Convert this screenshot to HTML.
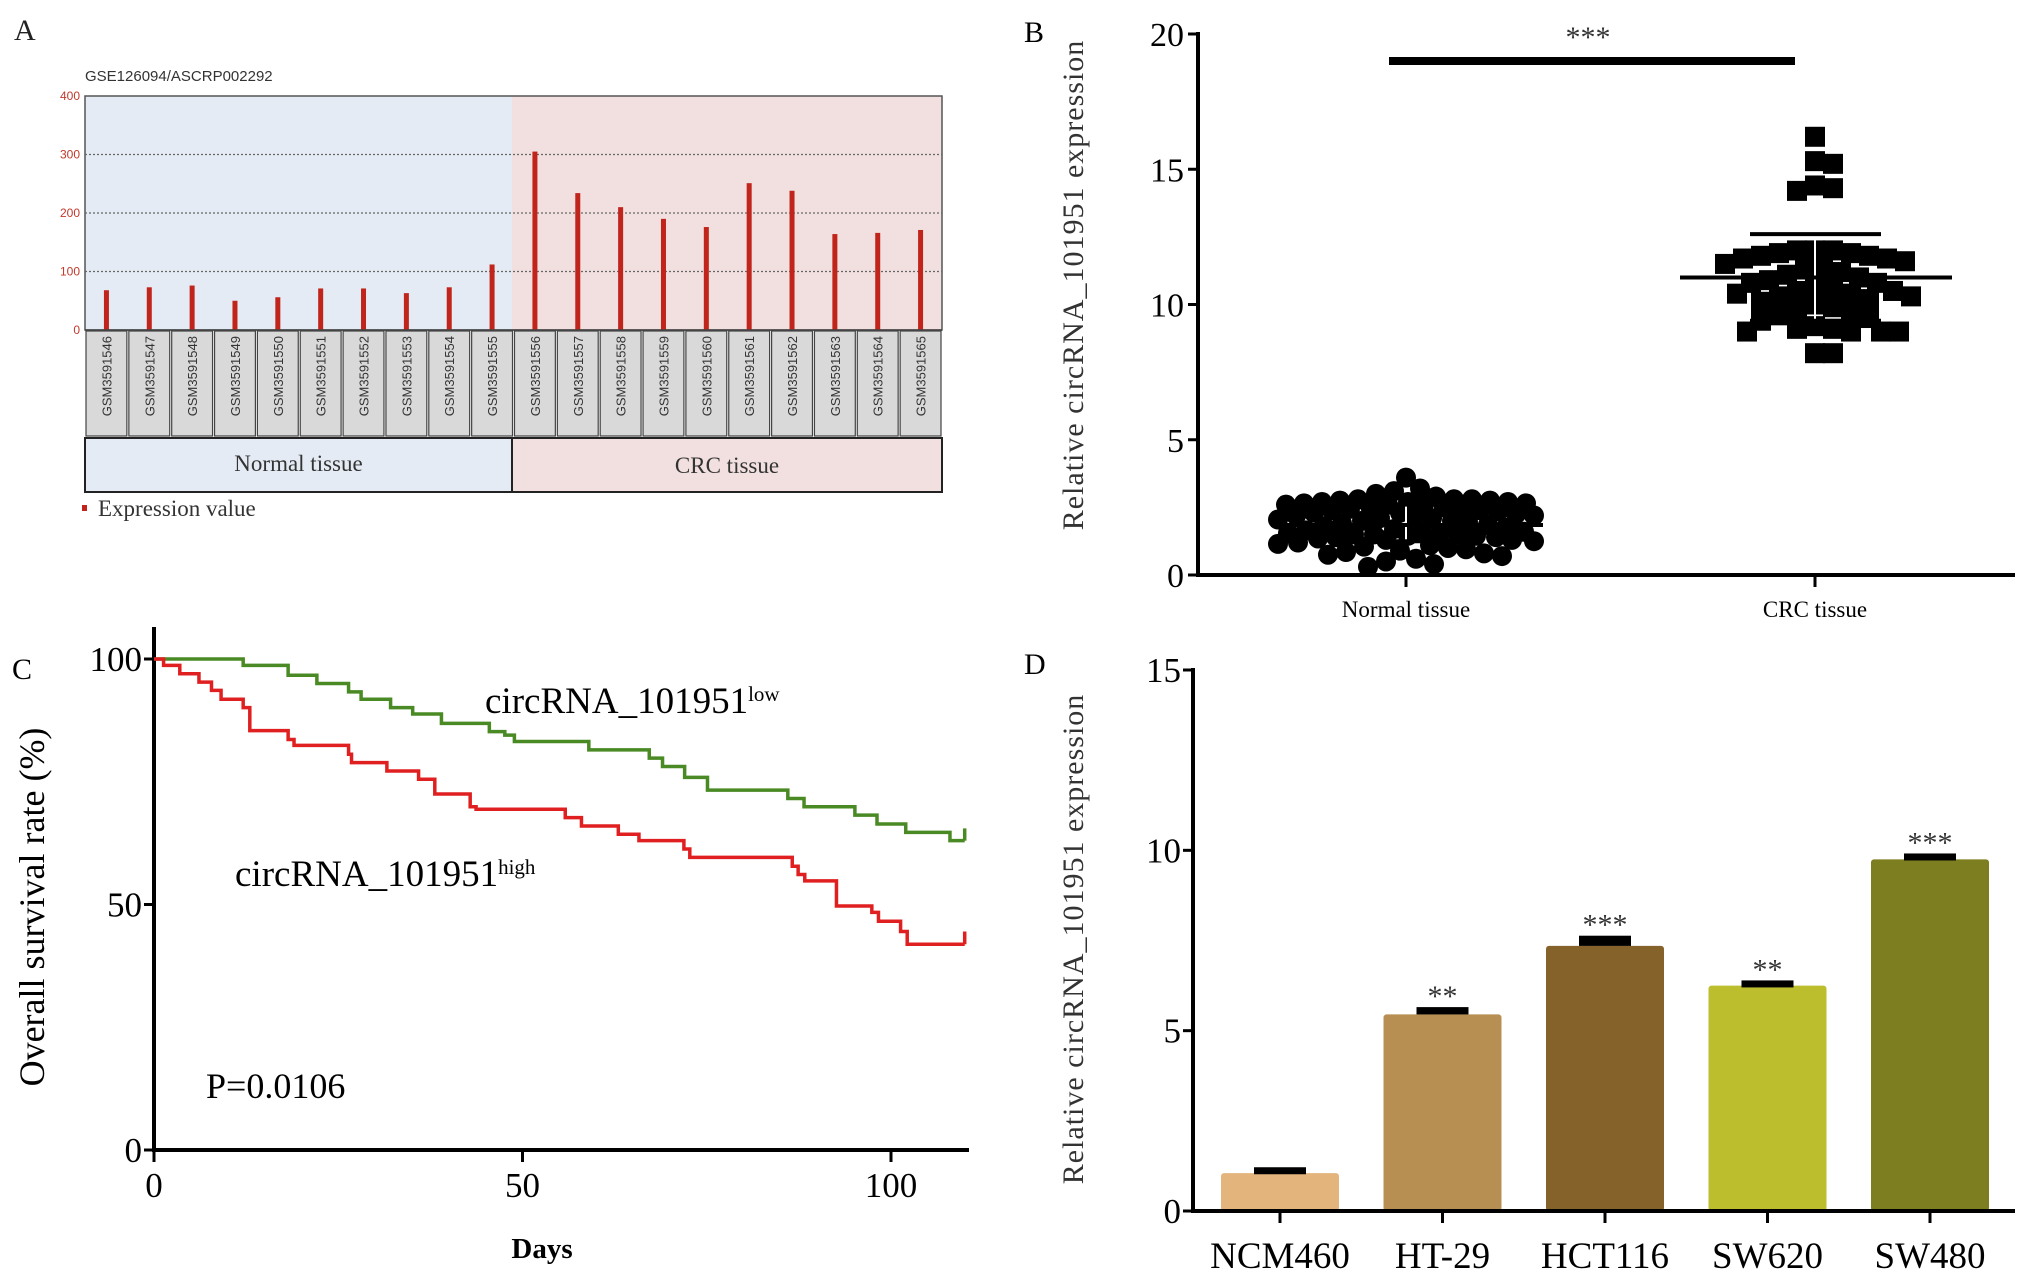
<!DOCTYPE html>
<html><head><meta charset="utf-8"><style>
html,body{margin:0;padding:0;background:#fff;overflow:hidden;}
svg{display:block;font-family:"Liberation Serif",serif;}
</style></head><body>
<svg id="fig" width="2031" height="1283" viewBox="0 0 2031 1283" xmlns="http://www.w3.org/2000/svg">
<g id="pa"></g>
<g id="pb"></g>
<g id="pc"></g>
<g id="pd"></g>
</svg>
<script>
// Panel A data
const aSamples=["GSM3591546","GSM3591547","GSM3591548","GSM3591549","GSM3591550","GSM3591551","GSM3591552","GSM3591553","GSM3591554","GSM3591555","GSM3591556","GSM3591557","GSM3591558","GSM3591559","GSM3591560","GSM3591561","GSM3591562","GSM3591563","GSM3591564","GSM3591565"];
const aValues=[68,73,76,50,56,71,71,63,73,112,305,234,210,190,176,251,238,164,166,171];
const aTicks=[0,100,200,300,400];
// Panel B data
const bNormal=[3.6,3.2,3.1,3.0,2.9,2.8,2.8,2.8,2.75,2.75,2.7,2.7,2.7,2.65,2.65,2.6,2.6,2.6,2.55,2.5,2.5,2.45,2.4,2.4,2.35,2.3,2.3,2.25,2.2,2.2,2.15,2.1,2.1,2.05,2.0,2.0,1.95,1.9,1.85,1.8,1.75,1.7,1.65,1.6,1.6,1.55,1.55,1.5,1.5,1.5,1.45,1.45,1.4,1.4,1.35,1.3,1.3,1.25,1.2,1.15,1.1,1.05,1.0,0.95,0.9,0.85,0.8,0.75,0.7,0.6,0.5,0.4,0.3];
const bCRC=[16.2,15.3,15.2,14.4,14.2,14.3,12.0,12.0,12.0,11.9,11.9,11.8,11.8,11.7,11.7,11.6,11.5,11.4,11.3,11.2,11.1,11.0,10.9,10.8,10.8,10.7,10.6,10.5,10.5,10.4,10.4,10.3,10.3,10.2,10.1,10.0,9.9,9.8,9.7,9.6,9.5,9.4,9.2,9.1,9.1,9.0,9.0,9.0,9.0,8.2,8.2];
const bStats=[{mean:1.85,sdHi:2.6,sdLo:1.25},{mean:11.0,sdHi:12.6,sdLo:9.4}];
const bTicks=[0,5,10,15,20];
const bCats=["Normal tissue","CRC tissue"];
// Panel C data
const cLowDays=[0,12.1,18.2,22.1,26.4,28.1,32.1,35.1,39,45.5,47.6,48.9,59,67.2,69,72,75.1,86,88.2,95.1,98.1,102,108,110];
const cLowVals=[100,98.7,96.7,95,93.3,91.8,90.1,88.8,86.9,85.2,84.5,83.2,81.5,79.8,78.1,75.9,73.3,71.6,69.9,68.2,66.4,64.7,63,63];
const cHighDays=[0,1.3,3.5,6.1,7.8,9.1,12.1,13,18.2,19,26.4,26.8,31.6,35.9,38.1,42.9,43.7,55.8,58,63,65.8,71.9,72.7,86.6,87.4,88.3,92.6,97.4,98.3,101.3,102.2,110];
const cHighVals=[100,98.7,97,95.3,93.6,91.8,90.1,85.4,83.6,82.4,80.6,78.9,77.2,75.5,72.5,69.9,69.4,67.7,66,64.3,63,61.3,59.6,57.8,56.1,54.8,49.7,48.4,46.6,44.5,41.9,41.9];
const cXTicks=[0,50,100];
const cYTicks=[0,50,100];
// Panel D data
const dCats=["NCM460","HT-29","HCT116","SW620","SW480"];
const dValues=[1.05,5.45,7.35,6.25,9.75];
const dErrors=[0.08,0.12,0.2,0.06,0.08];
const dStars=["","**","***","**","***"];
const dTicks=[0,5,10,15];

const NS="http://www.w3.org/2000/svg";
function mk(parent,tag,attrs,text){const e=document.createElementNS(NS,tag);for(const k in attrs)e.setAttribute(k,attrs[k]);if(text!==undefined)e.textContent=text;parent.appendChild(e);return e;}

// ---------- Panel A ----------
(function(){
const g=document.getElementById('pa');
const L=85,R=942,T=96,B=330,mid=512;
const y=v=>B-(v/400)*(B-T);
const bw=(R-L)/20, x=i=>L+bw*(i+0.5);
let e;
e=mk(g,'text',{x:14,y:40,'font-size':30,fill:'#222'},'A');
e=mk(g,'text',{x:85,y:81,'font-size':15,fill:'#333','font-family':'Liberation Sans, sans-serif'},'GSE126094/ASCRP002292');
e=mk(g,'rect',{x:L,y:T,width:mid-L,height:B-T,fill:'#e5ebf4'});
e=mk(g,'rect',{x:mid,y:T,width:R-mid,height:B-T,fill:'#f1e0df'});
mk(g,'rect',{x:L,y:T,width:R-L,height:B-T,fill:'none',stroke:'#555','stroke-width':1.5});
aTicks.forEach(t=>{
 if(t>0&&t<400){e=mk(g,'line',{x1:L,x2:R,y1:y(t),y2:y(t),stroke:'#666','stroke-dasharray':'2,2','stroke-width':1.2});}
 e=mk(g,'text',{x:L-5,y:y(t)+4,'text-anchor':'end','font-size':12,fill:'#c0392b','font-family':'Liberation Sans, sans-serif'},t);
});
aValues.forEach((v,i)=>{
 e=mk(g,'rect',{x:x(i)-2.5,y:y(v),width:5,height:B-y(v),fill:'#c0241a'});
 e=mk(g,'rect',{x:L+bw*i+1,y:B+1,width:bw-2,height:105,fill:'#d9d9d9',stroke:'#444','stroke-width':1.2});
 e=mk(g,'text',{x:x(i)+5,y:B+6,'font-size':13,fill:'#333','font-family':'Liberation Sans, sans-serif','text-anchor':'end',transform:`rotate(-90 ${x(i)+5} ${B+6})`},aSamples[i]);
});
mk(g,'line',{x1:L,x2:R,y1:B,y2:B,stroke:'#444','stroke-width':1.5});
e=mk(g,'rect',{x:L,y:438,width:mid-L,height:54,fill:'#e5ebf4',stroke:'#222','stroke-width':2});
e=mk(g,'rect',{x:mid,y:438,width:R-mid,height:54,fill:'#f1e0df',stroke:'#222','stroke-width':2});
e=mk(g,'text',{x:(L+mid)/2,y:471,'text-anchor':'middle','font-size':23,fill:'#333'},'Normal tissue');
e=mk(g,'text',{x:(mid+R)/2,y:473,'text-anchor':'middle','font-size':23,fill:'#333'},'CRC tissue');
e=mk(g,'rect',{x:82,y:505,width:5,height:6,fill:'#c0241a'});
e=mk(g,'text',{x:98,y:516,'font-size':23,fill:'#333'},'Expression value');
})();

// ---------- Panel B ----------
(function(){
const g=document.getElementById('pb');
const L=1198,R=2015,T=34,B=575;
const y=v=>B-(v/20)*(B-T);
const cx=[1406,1815];
let e;
e=mk(g,'text',{x:1024,y:42,'font-size':30},'B');
e=mk(g,'text',{x:0,y:0,'font-size':30,'text-anchor':'middle',fill:'#333',transform:'translate(1083 285) rotate(-90)','letter-spacing':'1'},'Relative circRNA_101951 expression');
bTicks.forEach(t=>{
 mk(g,'line',{x1:L-10,x2:L,y1:y(t),y2:y(t),stroke:'#000','stroke-width':3});
 e=mk(g,'text',{x:L-14,y:y(t)+12,'text-anchor':'end','font-size':34},t);
});
e=mk(g,'line',{x1:L,x2:L,y1:T-2,y2:B+2,stroke:'#000','stroke-width':4});
e=mk(g,'line',{x1:L,x2:R,y1:B,y2:B,stroke:'#000','stroke-width':4});
bCats.forEach((c,i)=>{
 mk(g,'line',{x1:cx[i],x2:cx[i],y1:B,y2:B+12,stroke:'#000','stroke-width':3});
 e=mk(g,'text',{x:cx[i],y:B+42,'text-anchor':'middle','font-size':23},c);
});
function swarm(vals,r,maxOff){const placed=[];vals.slice().sort((a,b)=>b-a).forEach(v=>{const py=y(v);let best=null,bestD=-1;
 for(let k=0;k*2<=maxOff;k++){const offs=k===0?[0]:[k*2,-k*2];let found=false;
  for(const o of offs){const md=placed.length?Math.min(...placed.map(p=>Math.hypot(p[0]-o,p[1]-py))):1e9;
   if(md>=1.75*r){best=o;found=true;break;} if(md>bestD){bestD=md;best=o;}}
  if(found)break;}
 placed.push([best,py]);});return placed;}
swarm(bNormal,10,128).forEach(p=>{e=mk(g,'circle',{cx:cx[0]+p[0],cy:p[1],r:10,fill:'#000'});});
swarm(bCRC,10,128).forEach(p=>{e=mk(g,'rect',{x:cx[1]+p[0]-10,y:p[1]-10,width:20,height:20,fill:'#000'});});
bStats.forEach((s,i)=>{
 mk(g,'line',{x1:cx[i],x2:cx[i],y1:y(s.sdHi),y2:y(s.sdLo),stroke:'#fff','stroke-width':2});
 e=mk(g,'line',{x1:cx[i]-65,x2:cx[i]+66,y1:y(s.sdHi),y2:y(s.sdHi),stroke:'#000','stroke-width':4});
 e=mk(g,'line',{x1:cx[i]-65,x2:cx[i]+66,y1:y(s.sdLo),y2:y(s.sdLo),stroke:'#000','stroke-width':4});
 e=mk(g,'line',{x1:cx[i]-135,x2:cx[i]+137,y1:y(s.mean),y2:y(s.mean),stroke:'#000','stroke-width':4});
});
e=mk(g,'rect',{x:1389,y:57,width:406,height:8,fill:'#000'});
e=mk(g,'text',{x:1588,y:47,'text-anchor':'middle','font-size':30,fill:'#333'},'***');
})();

// ---------- Panel C ----------
(function(){
const g=document.getElementById('pc');
const x0=154,xScale=(891-154)/100,yB=1150,yT=659;
const x=d=>x0+d*xScale, y=v=>yB-(v/100)*(yB-yT);
let e;
e=mk(g,'text',{x:12,y:679,'font-size':30},'C');
e=mk(g,'text',{x:0,y:0,'font-size':36,'text-anchor':'middle',transform:'translate(44 907) rotate(-90)'},'Overall survival rate (%)');
cYTicks.forEach(t=>{mk(g,'line',{x1:x0-10,x2:x0,y1:y(t),y2:y(t),stroke:'#000','stroke-width':3});
 e=mk(g,'text',{x:x0-12,y:y(t)+12,'text-anchor':'end','font-size':35},t);});
cXTicks.forEach(t=>{mk(g,'line',{x1:x(t),x2:x(t),y1:yB,y2:yB+12,stroke:'#000','stroke-width':3});
 e=mk(g,'text',{x:x(t),y:yB+47,'text-anchor':'middle','font-size':35},t);});
e=mk(g,'line',{x1:x0,x2:x0,y1:627,y2:yB+2,stroke:'#000','stroke-width':4});
e=mk(g,'line',{x1:x0,x2:969,y1:yB,y2:yB,stroke:'#000','stroke-width':4});
e=mk(g,'text',{x:542,y:1258,'text-anchor':'middle','font-size':29,'font-weight':'bold'},'Days');
function step(days,vals){let d=`M${x(days[0])},${y(vals[0])}`;for(let i=1;i<days.length;i++){d+=` H${x(days[i])} V${y(vals[i])}`;}return d;}
e=mk(g,'path',{d:step(cLowDays,cLowVals),fill:'none',stroke:'#4a8a24','stroke-width':3.5});
e=mk(g,'line',{x1:x(110),x2:x(110),y1:y(63),y2:y(65.5),stroke:'#4a8a24','stroke-width':3.5});
e=mk(g,'path',{d:step(cHighDays,cHighVals),fill:'none',stroke:'#e02020','stroke-width':3.5});
e=mk(g,'line',{x1:x(110),x2:x(110),y1:y(41.9),y2:y(44.5),stroke:'#e02020','stroke-width':3.5});
e=mk(g,'text',{x:485,y:713,'font-size':37},'circRNA_101951');
mk(e,'tspan',{'font-size':21,dy:-12},'low');
e=mk(g,'text',{x:235,y:886,'font-size':37},'circRNA_101951');
mk(e,'tspan',{'font-size':21,dy:-12},'high');
e=mk(g,'text',{x:206,y:1098,'font-size':36},'P=0.0106');
})();

// ---------- Panel D ----------
(function(){
const g=document.getElementById('pd');
const L=1193,R=2015,B=1211,T=670;
const y=v=>B-(v/15)*(B-T);
const step=(1930-1280)/4, x=i=>1280+i*step, bw=118;
const colors=['#e3b47c','#b88f52','#86622b','#bdbe2e','#7d7e1f'];
let e;
e=mk(g,'text',{x:1024,y:674,'font-size':30},'D');
e=mk(g,'text',{x:0,y:0,'font-size':30,'text-anchor':'middle',fill:'#333',transform:'translate(1083 939) rotate(-90)','letter-spacing':'1'},'Relative circRNA_101951 expression');
dTicks.forEach(t=>{mk(g,'line',{x1:L-10,x2:L,y1:y(t),y2:y(t),stroke:'#000','stroke-width':3});
 e=mk(g,'text',{x:L-12,y:y(t)+12,'text-anchor':'end','font-size':35},t);});
dValues.forEach((v,i)=>{
 e=mk(g,'rect',{x:x(i)-bw/2,y:y(v),width:bw,height:B-y(v),fill:colors[i],rx:3});
 e=mk(g,'rect',{x:x(i)-26,y:y(v+dErrors[i])-3,width:52,height:Math.max(7,y(v)-y(v+dErrors[i])+3),fill:'#000'});
 if(dStars[i]){e=mk(g,'text',{x:x(i),y:y(v+dErrors[i])-4,'text-anchor':'middle','font-size':30,fill:'#333'},dStars[i]);}
 mk(g,'line',{x1:x(i),x2:x(i),y1:B,y2:B+12,stroke:'#000','stroke-width':3});
 e=mk(g,'text',{x:x(i),y:B+57,'text-anchor':'middle','font-size':37},dCats[i]);
});
e=mk(g,'line',{x1:L,x2:L,y1:T-2,y2:B+2,stroke:'#000','stroke-width':4});
e=mk(g,'line',{x1:L,x2:R,y1:B,y2:B,stroke:'#000','stroke-width':4});
})();
</script>
</body></html>
